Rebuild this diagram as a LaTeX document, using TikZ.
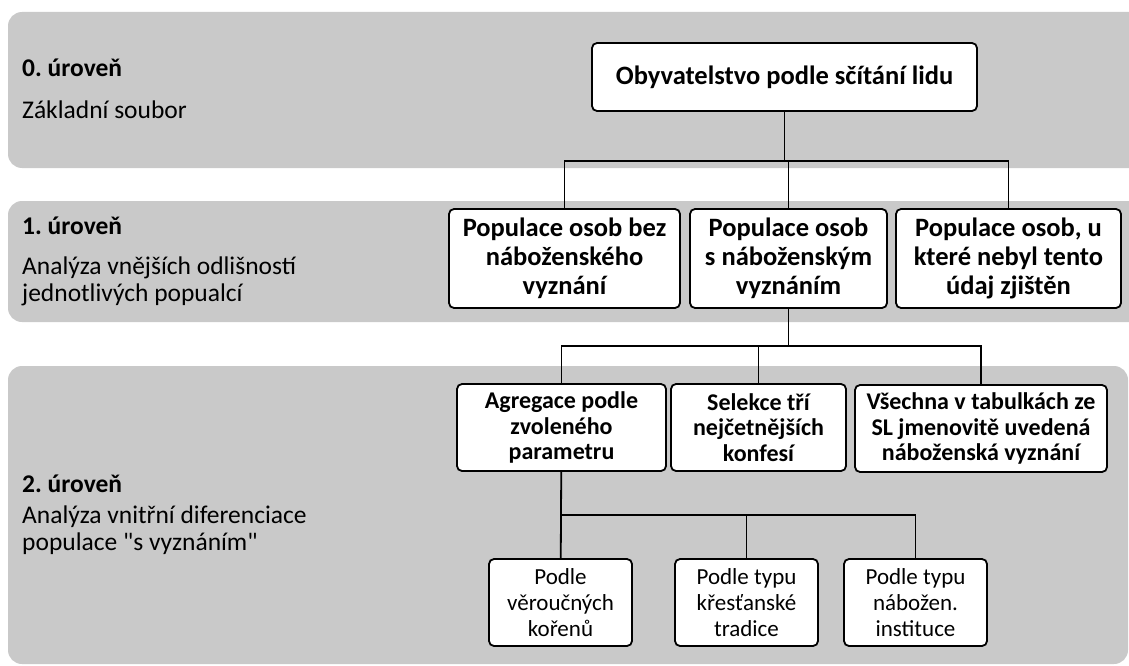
\documentclass[tikz,border=0pt]{standalone}
\usepackage{fontspec}
\setmainfont{Carlito}[Ligatures=TeXOff]
\definecolor{bandgray}{RGB}{201,201,201}
\newcommand{\lw}{1.8pt}
\frenchspacing

\begin{document}
\begin{tikzpicture}[x=1pt, y=-1pt,
    band/.style={fill=bandgray, draw=none, rounded corners=14pt},
    lvl/.style={anchor=base west, inner sep=0pt, font=\fontsize{25.5}{27}\selectfont},
    lvlhead/.style={lvl, font=\fontsize{25.5}{27}\selectfont\bfseries},
    rect/.style={draw, rectangle, fill=white, rounded corners=5pt, line width=\lw, align=center, inner sep=0pt},
    big/.style={rect, minimum height=99pt, font=\fontsize{26.5}{29}\selectfont\bfseries},
    mid/.style={rect, minimum height=87pt, font=\fontsize{24}{25.5}\selectfont\bfseries},
    small/.style={rect, minimum height=87pt, font=\fontsize{23}{26}\selectfont},
    link/.style={line width=\lw}]
    \useasboundingbox (0,0) rectangle (1129,666);

    % Background bands
    \fill[band] (8,12) rectangle (1160,168);
    \fill[band] (8,201) rectangle (1160,322);
    \fill[band] (8,366) rectangle (1128,664);

    % Level labels
    \node[lvlhead] (lvl-0) at (22,77) {0. úroveň};
    \node[lvl] (lvl-0-a) at (22,118) {Základní soubor};

    \node[lvlhead] (lvl-1) at (22,234) {1. úroveň};
    \node[lvl] (lvl-1-a) at (22,274) {Analýza vnějších odlišností};
    \node[lvl] (lvl-1-b) at (22,301) {jednotlivých popualcí};

    \node[lvlhead] (lvl-2) at (22,492) {2. úroveň};
    \node[lvl] (lvl-2-a) at (22,523) {Analýza vnitřní diferenciace};
    \node[lvl] (lvl-2-b) at (22,550) {populace "s vyznáním"};

    % Level 0
    \node[rect, minimum width=385pt, minimum height=68pt, font=\fontsize{26.5}{29}\selectfont\bfseries] (obyv) at (784.5,77) {Obyvatelstvo podle sčítání lidu};

    % Level 1
    \node[big, minimum width=231pt] (pop-bez) at (564.5,258.5) {Populace osob bez\\náboženského\\vyznání};
    \node[big, minimum width=197pt] (pop-s) at (788.5,258.5) {Populace osob\\s náboženským\\vyznáním};
    \node[big, minimum width=225pt] (pop-nez) at (1008.5,258.5) {Populace osob, u\\které nebyl tento\\údaj zjištěn};

    % Level 2
    \node[mid, minimum width=209pt] (agr) at (561.5,427.5) {Agregace podle\\zvoleného\\parametru};
    \node[mid, minimum width=175pt] (sel) at (758.5,427.5) {Selekce tří\\nejčetnějších\\konfesí};
    \node[mid, minimum width=252pt] (vse) at (981,428.5) {Všechna v tabulkách ze\\SL jmenovitě uvedená\\náboženská vyznání};

    % Level 3
    \node[small, minimum width=143pt] (kor) at (560.5,602.5) {Podle\\věroučných\\kořenů};
    \node[small, minimum width=143pt] (trad) at (746.5,602.5) {Podle typu\\křesťanské\\tradice};
    \node[small, minimum width=143pt] (inst) at (915.5,602.5) {Podle typu\\nábožen.\\instituce};

    % Connectors
    \coordinate (j-0) at (784.5,161);
    \draw[link] (obyv) -- (j-0);
    \draw[link] (pop-bez.north) |- (j-0) -| (pop-nez.north);
    \draw[link] (pop-s.north) -- (pop-s.north |- j-0);

    \coordinate (j-1) at (788.5,346);
    \draw[link] (pop-s) -- (j-1);
    \draw[link] (agr.north) |- (j-1) -| (vse.north);
    \draw[link] (sel.north) -- (sel.north |- j-1);

    \coordinate (j-2) at (561.5,515);
    \draw[link] (agr) -- (kor);
    \draw[link] (j-2) -| (inst.north);
    \draw[link] (trad.north) -- (trad.north |- j-2);

\end{tikzpicture}
\end{document}
